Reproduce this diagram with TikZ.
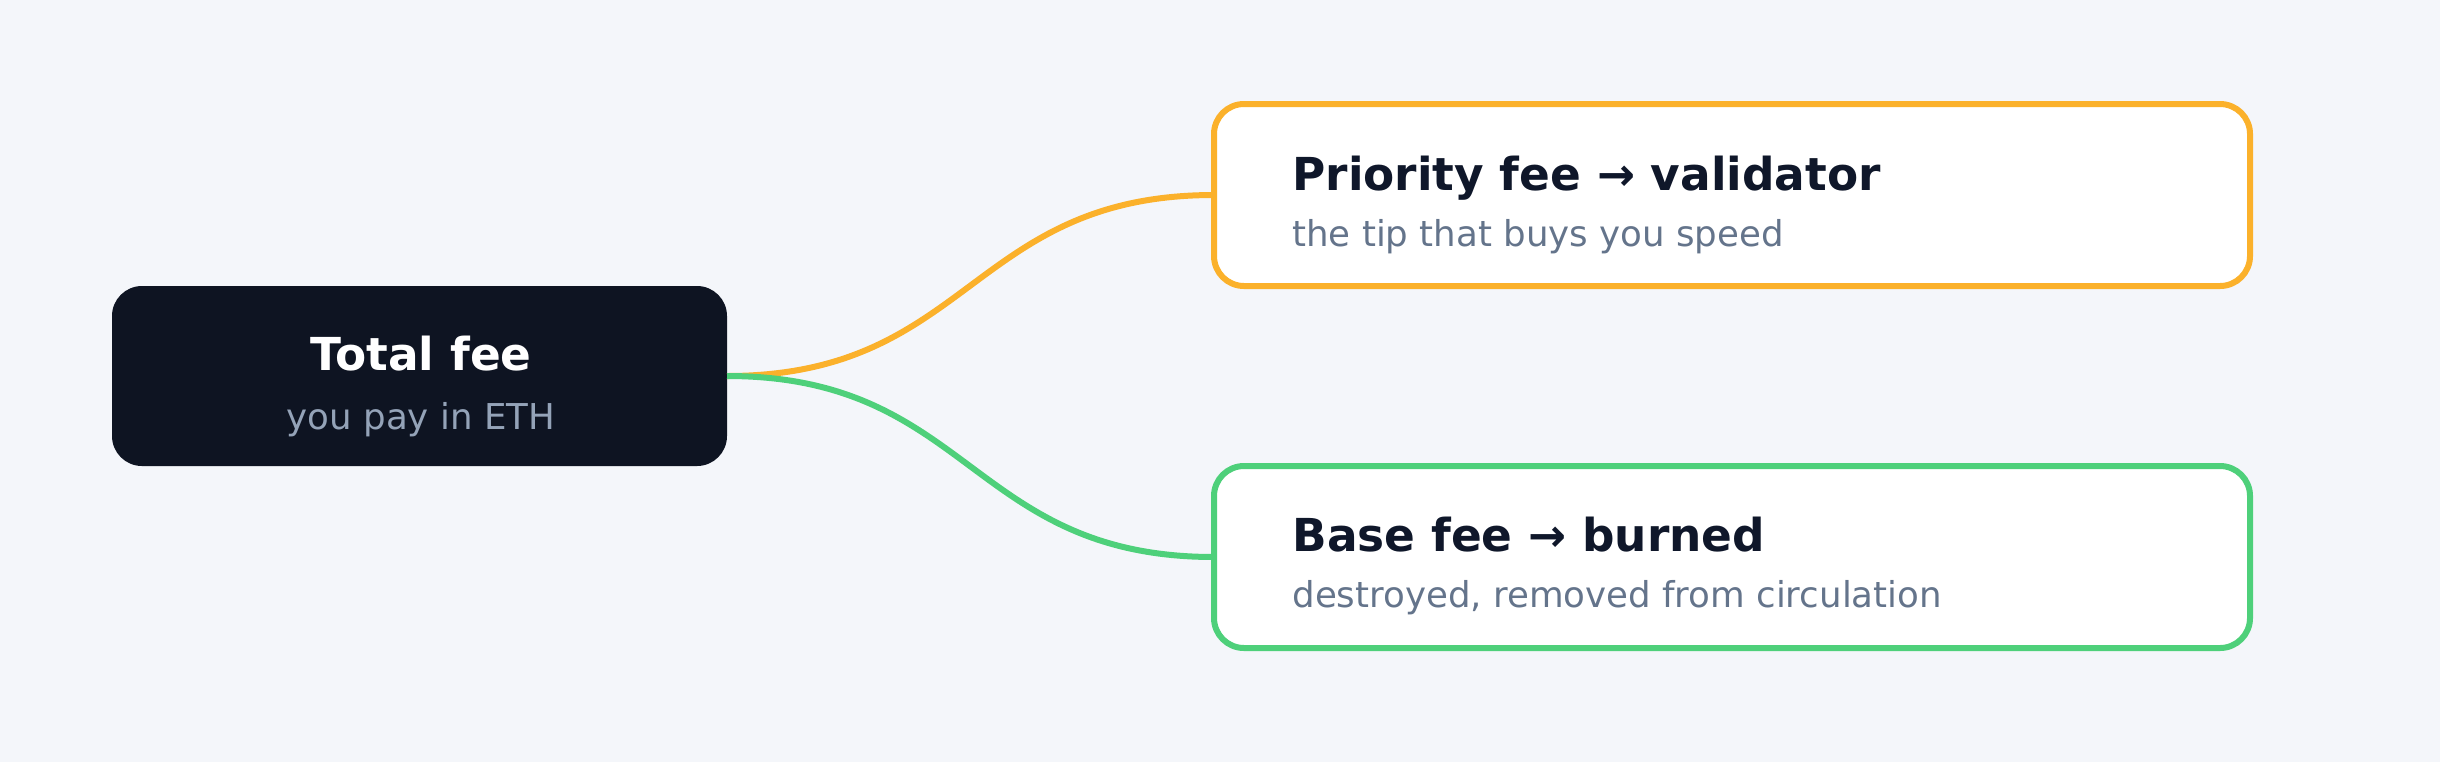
\documentclass[tikz,border=0pt]{standalone}
\usepackage{fontspec}
\setmainfont{DejaVu Sans}
\definecolor{bg}{HTML}{F4F6FA}
\definecolor{darkfill}{HTML}{0E1422}
\definecolor{slatelight}{HTML}{94A3B8}
\definecolor{slatemid}{HTML}{64748B}
\definecolor{ink}{HTML}{0F172A}
\definecolor{amber}{HTML}{FBB12B}
\definecolor{mint}{HTML}{4ED07A}
\tikzset{
  darkbox/.style={fill=darkfill, rounded corners=15pt, inner sep=0pt, outer sep=0pt,
    minimum width=307.5pt, minimum height=90pt},
  lightbox/.style={fill=white, line width=3pt, rounded corners=15pt, inner sep=0pt, outer sep=0pt,
    minimum width=518pt, minimum height=91pt},
  titletext/.style={font=\bfseries\fontsize{22.7}{27}\selectfont, inner sep=0pt},
  subtext/.style={font=\fontsize{17.8}{21}\selectfont, inner sep=0pt},
  link/.style={line width=3pt}
}
\begin{document}
\begin{tikzpicture}[x=0.5pt,y=-0.5pt]
\useasboundingbox[fill=bg] (0,0) rectangle (2440,762);
% boxes
\node[darkbox] (total) at (419.5,376) {};
\node[lightbox, draw=amber] (prio) at (1732,195) {};
\node[lightbox, draw=mint] (base) at (1732,557) {};
% connectors
\draw[link, amber] (total.east) .. controls +(243,0) and +(-243,0) .. (prio.west);
\draw[link, mint] (total.east) .. controls +(243,0) and +(-243,0) .. (base.west);
% texts
\node[titletext, text=white, anchor=base] (totalt) at (421,370) {Total fee};
\node[subtext, text=slatelight, anchor=base] (totals) at (421,429) {you pay in ETH};
\node[titletext, text=ink, anchor=base west] (priot) at (1292,190) {Priority fee → validator};
\node[subtext, text=slatemid, anchor=base west] (prios) at (1292,246) {the tip that buys you speed};
\node[titletext, text=ink, anchor=base west] (baset) at (1292,551) {Base fee → burned};
\node[subtext, text=slatemid, anchor=base west] (bases) at (1292,607) {destroyed, removed from circulation};
\end{tikzpicture}
\end{document}
